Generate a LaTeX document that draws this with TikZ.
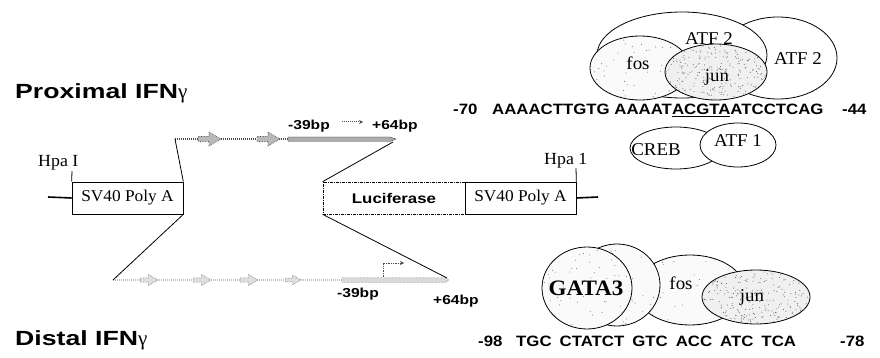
\documentclass[tikz,border=0pt]{standalone}
\usepackage{fontspec}
\setmainfont{Liberation Serif}
\newfontfamily\sansb[FakeStretch=1.2]{Liberation Sans}
\newfontfamily\sanss[FakeStretch=1.12]{Liberation Sans}
\newfontfamily\sanst[FakeStretch=1.3]{Liberation Sans}
\newfontfamily\serifx[FakeStretch=1.05]{Liberation Serif}
\usetikzlibrary{shapes.geometric,arrows.meta}
\newcommand\mystipple[6]{% cx, cy, rx, ry, n, colour
  \begin{scope}
    \clip (#1,#2) ellipse [x radius=#3, y radius=#4];
    \foreach \k in {1,...,#5}{
      \fill[#6] ({#1+#3*(2*rnd-1)},{#2+#4*(2*rnd-1)}) circle [radius=0.5];
    }
  \end{scope}}
\tikzset{
  title/.style={font=\sanst\bfseries\fontsize{20.5}{20.5}\selectfont, anchor=base west, inner sep=0},
  bplab/.style={font=\sansb\bfseries\fontsize{13}{13}\selectfont, anchor=base west, inner sep=0},
  seqtxt/.style={font=\sanss\bfseries\fontsize{15}{15}\selectfont, anchor=base west, inner sep=0},
  hpalab/.style={font=\serifx\fontsize{17}{17}\selectfont, anchor=base west, inner sep=0},
  sbox/.style={draw, line width=0.7pt, inner sep=0, minimum width=111, minimum height=32,
    font=\serifx\fontsize{16.5}{16.5}\selectfont},
  lucbox/.style={draw, line width=0.7pt, dash pattern=on 3pt off 1pt on 1pt off 1pt, inner sep=0,
    minimum width=142, minimum height=32, font=\sansb\bfseries\fontsize{14}{14}\selectfont},
  tf/.style={ellipse, draw, line width=0.8pt, fill=white, inner sep=0},
  tflab/.style={font=\serifx\fontsize{18}{18}\selectfont, inner sep=0},
  stub/.style={line width=1.6pt},
  conn/.style={line width=0.8pt},
  row/.style={gray!60!black, line width=1.4pt, dash pattern=on 1.2pt off 0.8pt},
  fatarrow/.pic={
    \draw[black!70, densely dotted, line width=0.6pt, fill=gray!55]
      (0,-2.5) -- (11,-2.5) -- (11,-7) -- (23,0) -- (11,7) -- (11,2.5) -- (0,2.5) -- cycle;
  },
  paleatarrow/.pic={
    \draw[gray!70!black, densely dotted, line width=0.5pt, fill=gray!25]
      (0,-2.5) -- (10,-2.5) -- (10,-6.5) -- (21,0) -- (10,6.5) -- (10,2.5) -- (0,2.5) -- cycle;
  }
}
\begin{document}
\begin{tikzpicture}[x=1pt,y=-1pt]
\useasboundingbox (0,0) rectangle (880,358);
\pgfmathsetseed{7}

% titles
\node[title] (prox) at (15,99) {Proximal IFN{\rmfamily\mdseries\fontsize{21}{21}\selectfont γ}};
\node[title] (dist) at (15,345) {Distal IFN{\rmfamily\mdseries\fontsize{21}{21}\selectfont γ}};

% construct boxes
\node[sbox] (lbox) at (127.5,198) {SV40 Poly A};
\node[lucbox] (luc) at (394,198) {Luciferase};
\node[sbox] (rbox) at (520.5,198) {SV40 Poly A};

% Hpa I sites
\node[hpalab] (hpaL) at (38,167) {Hpa I};
\coordinate (tickL) at (72,171);
\draw[conn] (lbox.north west) -- (tickL);
\coordinate (stubL) at (48,197);
\draw[stub] (stubL) -- (lbox.west);

\node[hpalab] (hpaR) at (544,165) {Hpa 1};
\coordinate (tickR) at (576,168);
\draw[conn] (rbox.north east) -- (tickR);
\coordinate (stubR) at (598,197);
\draw[stub] (rbox.east) -- (stubR);

% top (proximal) row
\coordinate (t0) at (175,139);
\coordinate (tb) at (288,139);
\coordinate (tend) at (393,142);
\draw[row] (t0) -- (tb);
\pic at (198,139) {fatarrow};
\pic at (257,139) {fatarrow};
\draw[black!70, line width=0.4pt, fill=gray!65] (288,137) -- (390,137) -- (396,139) -- (390,141.5) -- (288,141.5) -- cycle;
\coordinate (sa0) at (342,122);
\coordinate (sa1) at (363,122);
\draw[gray!60!black, densely dotted, line width=1pt, -{Stealth[length=4pt,width=4pt]}] (sa0) -- (sa1);
\node[bplab] (tm39) at (288,130) {-39bp};
\node[bplab] (tp64) at (372,130) {+64bp};
\draw[conn] (lbox.north east) -- (t0);
\draw[conn] (luc.north west) -- (tend);

% bottom (distal) row
\coordinate (b0) at (113,280);
\coordinate (bb) at (342,280);
\coordinate (bend) at (447,278);
\draw[row, gray!50] (b0) -- (bb);
\pic[scale=0.85] at (140,280) {paleatarrow};
\pic[scale=0.85] at (193,280) {paleatarrow};
\pic[scale=0.85] at (240,280) {paleatarrow};
\pic[scale=0.75] at (285,280) {paleatarrow};
\draw[gray!50!black, line width=0.4pt, densely dotted, fill=gray!30] (342,277.5) -- (445,277.5) -- (449,280) -- (445,282.5) -- (342,282.5) -- cycle;
\coordinate (ba0) at (383,277);
\coordinate (ba1) at (404,263);
\draw[gray!60!black, densely dotted, line width=0.7pt, -{Stealth[length=4pt,width=4pt]}] (ba0) |- (ba1);
\node[bplab] (bm39) at (337,297) {-39bp};
\node[bplab] (bp64) at (433,304) {+64bp};
\draw[conn] (lbox.south east) -- (b0);
\draw[conn] (luc.south west) -- (bend);

% proximal factors
\node[tf, minimum width=118, minimum height=82] (atf2r) at (778,58) {};
\node[tf, minimum width=170, minimum height=86] (atf2b) at (682,55) {};
\node[tf, fill=gray!4, minimum width=100, minimum height=64] (fos1) at (640,68) {};
\mystipple{640}{68}{49}{31}{45}{black!60}
\node[tf, fill=gray!12, minimum width=102, minimum height=56] (jun1) at (716,72) {};
\mystipple{716}{72}{50}{27}{260}{black!65}
\node[tflab] (latf2b) at (709,39) {ATF 2};
\node[tflab] (latf2r) at (798,59) {ATF 2};
\node[tflab] (lfos1) at (638,63) {fos};
\node[tflab] (ljun1) at (717,77) {jun};

\node[tf, minimum width=92, minimum height=42] (creb) at (676,148) {};
\node[tf, minimum width=76, minimum height=44] (atf1) at (738,145) {};
\node[tflab] (lcreb) at (656,150) {CREB};
\node[tflab] (latf1) at (738,141) {ATF 1};

% proximal sequence
\node[seqtxt] (s70) at (453,115) {-70};
\node[seqtxt] (seqp) at (492,115) {AAAACTTGTG AAAAT\underline{ACGTA}ATCCTCAG};
\node[seqtxt] (s44) at (842,115) {-44};

% distal factors
\node[tf, fill=gray!4, minimum width=110, minimum height=70] (fos2) at (690,290) {};
\mystipple{690}{290}{54}{34}{45}{black!55}
\node[tf, fill=gray!4, minimum width=86, minimum height=82] (mid2) at (617,285) {};
\mystipple{617}{285}{42}{40}{50}{black!55}
\node[tf, fill=gray!4, minimum width=90, minimum height=82] (gata) at (587,288) {};
\mystipple{587}{288}{44}{40}{55}{black!55}
\node[tf, fill=gray!12, minimum width=108, minimum height=54] (jun2) at (756,297) {};
\mystipple{756}{297}{53}{26}{260}{black!65}
\node[font=\serifx\bfseries\fontsize{22}{22}\selectfont, inner sep=0] (lgata) at (586,288) {GATA3};
\node[tflab] (lfos2) at (681,283) {fos};
\node[tflab] (ljun2) at (752,297) {jun};

% distal sequence
\node[seqtxt] (s98) at (478,346) {-98};
\node[seqtxt] (seqd) at (516,346) {TGC\hspace{8pt}CTATCT\hspace{8pt}GTC\hspace{8pt}ACC\hspace{8pt}ATC\hspace{8pt}TCA};
\node[seqtxt] (s78) at (840,346) {-78};
\end{tikzpicture}
\end{document}
